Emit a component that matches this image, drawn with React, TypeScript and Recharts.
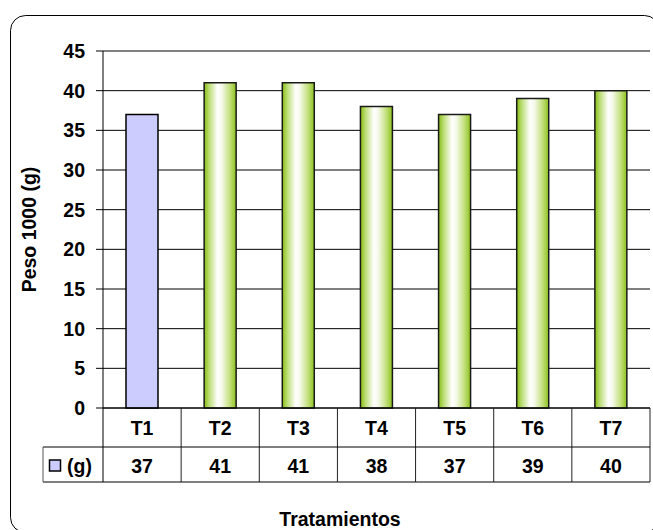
import React from 'react';
import { BarChart, Bar, XAxis, YAxis, CartesianGrid, Cell } from 'recharts';

const categories = ['T1', 'T2', 'T3', 'T4', 'T5', 'T6', 'T7'];
const values = [37, 41, 41, 38, 37, 39, 40];
const yTicks = [0, 5, 10, 15, 20, 25, 30, 35, 40, 45];
const seriesName = '(g)';
const yTitle = 'Peso 1000 (g)';
const xTitle = 'Tratamientos';

const data = categories.map((c, i) => ({ name: c, value: values[i] }));

const W = 653;
const H = 530;
const PLOT_LEFT = 103;
const PLOT_RIGHT = 650;
const PLOT_TOP = 51;
const X_AXIS_H = 122;
const CELL_W = (PLOT_RIGHT - PLOT_LEFT) / categories.length;
const ROW1 = 39;
const ROW2 = 35;
const HEADER_LEFT = 43;
const FONT = '"Liberation Sans", Arial, Helvetica, sans-serif';

const textStyle = { fontFamily: FONT, fontWeight: 700, fontSize: 19.5, fill: '#000' };

function TableTick(props: any) {
  const { x, y, payload, index } = props;
  const left = x - CELL_W / 2;
  const right = x + CELL_W / 2;
  const y0 = y;
  const yMid = y0 + ROW1;
  const yBot = y0 + ROW1 + ROW2;
  return (
    <g>
      <line x1={right} y1={y0} x2={right} y2={yBot} stroke="#222" strokeWidth={1} />
      {index === 0 && <line x1={left} y1={y0} x2={left} y2={yBot} stroke="#000" strokeWidth={1} />}
      <line x1={left} y1={yMid} x2={right} y2={yMid} stroke="#000" strokeWidth={1} />
      <line x1={left} y1={yBot} x2={right} y2={yBot} stroke="#000" strokeWidth={1} />
      <text x={x} y={y0 + ROW1 / 2} dy="0.36em" textAnchor="middle" style={textStyle}>
        {payload.value}
      </text>
      <text x={x} y={yMid + ROW2 / 2 + 1} dy="0.36em" textAnchor="middle" style={textStyle}>
        {values[index]}
      </text>
      {index === 0 && (
        <g>
          <line x1={HEADER_LEFT} y1={yMid} x2={left} y2={yMid} stroke="#000" strokeWidth={1} />
          <line x1={HEADER_LEFT} y1={yBot} x2={left} y2={yBot} stroke="#000" strokeWidth={1} />
          <line x1={HEADER_LEFT} y1={yMid} x2={HEADER_LEFT} y2={yBot} stroke="#555" strokeWidth={1} />
          <rect x={49.5} y={yMid + ROW2 / 2 - 4.5} width={11} height={11} fill="#ccccff" stroke="#000" strokeWidth={1.5} />
          <text x={67} y={yMid + ROW2 / 2 + 1} dy="0.36em" textAnchor="start" style={textStyle}>
            {seriesName}
          </text>
        </g>
      )}
    </g>
  );
}

function YTitle(props: any) {
  const vb = props.viewBox || {};
  const cy = vb.y + vb.height / 2;
  const cx = 29;
  return (
    <text x={cx} y={cy} dy="0.36em" textAnchor="middle" transform={`rotate(-90 ${cx} ${cy})`} style={textStyle}>
      {yTitle}
    </text>
  );
}

function XTitle(props: any) {
  const vb = props.viewBox || {};
  const cx = 340;
  const cy = vb.y + 111;
  return (
    <text x={cx} y={cy} dy="0.36em" textAnchor="middle" style={textStyle}>
      {xTitle}
    </text>
  );
}

export default function App() {
  return (
    <div style={{ position: 'absolute', left: 0, top: 0, width: W, height: H, background: '#fff', overflow: 'hidden' }}>
      <svg width={W} height={H} style={{ position: 'absolute', left: 0, top: 0 }}>
        <rect x={10.5} y={15.5} width={649} height={517} rx={15} ry={15} fill="#fff" stroke="#000" strokeWidth={1} />
      </svg>
      <div style={{ position: 'absolute', left: 0, top: 0 }}>
        <BarChart
          width={W}
          height={H}
          data={data}
          margin={{ top: PLOT_TOP, right: W - PLOT_RIGHT, bottom: 0, left: 0 }}
          barCategoryGap={0}
        >
          <defs>
            <linearGradient id="greenBar" x1="0" y1="0" x2="1" y2="0">
              <stop offset="0" stopColor="#86bd10" />
              <stop offset="0.15" stopColor="#b9dc70" />
              <stop offset="0.42" stopColor="#ffffff" />
              <stop offset="0.55" stopColor="#f5faea" />
              <stop offset="0.8" stopColor="#c4e07f" />
              <stop offset="1" stopColor="#8cc21c" />
            </linearGradient>
          </defs>
          <CartesianGrid vertical={false} stroke="#000" strokeWidth={1} />
          <XAxis
            dataKey="name"
            height={X_AXIS_H}
            interval={0}
            tickLine={false}
            tickSize={0}
            tickMargin={0}
            axisLine={{ stroke: '#000', strokeWidth: 1 }}
            tick={(p: any) => <TableTick {...p} />}
            label={(p: any) => <XTitle {...p} />}
          />
          <YAxis
            width={PLOT_LEFT}
            domain={[0, 45]}
            ticks={yTicks}
            interval={0}
            tickSize={7}
            tickMargin={11}
            axisLine={{ stroke: '#000', strokeWidth: 1 }}
            tickLine={{ stroke: '#000', strokeWidth: 1 }}
            tick={textStyle}
            label={(p: any) => <YTitle {...p} />}
          />
          <Bar dataKey="value" barSize={32} isAnimationActive={false} stroke="#000" strokeWidth={1.5}>
            {data.map((d, i) => (
              <Cell key={d.name} fill={i === 0 ? '#ccccff' : 'url(#greenBar)'} stroke={i === 0 ? '#000' : '#1a1a1a'} />
            ))}
          </Bar>
        </BarChart>
      </div>
    </div>
  );
}
